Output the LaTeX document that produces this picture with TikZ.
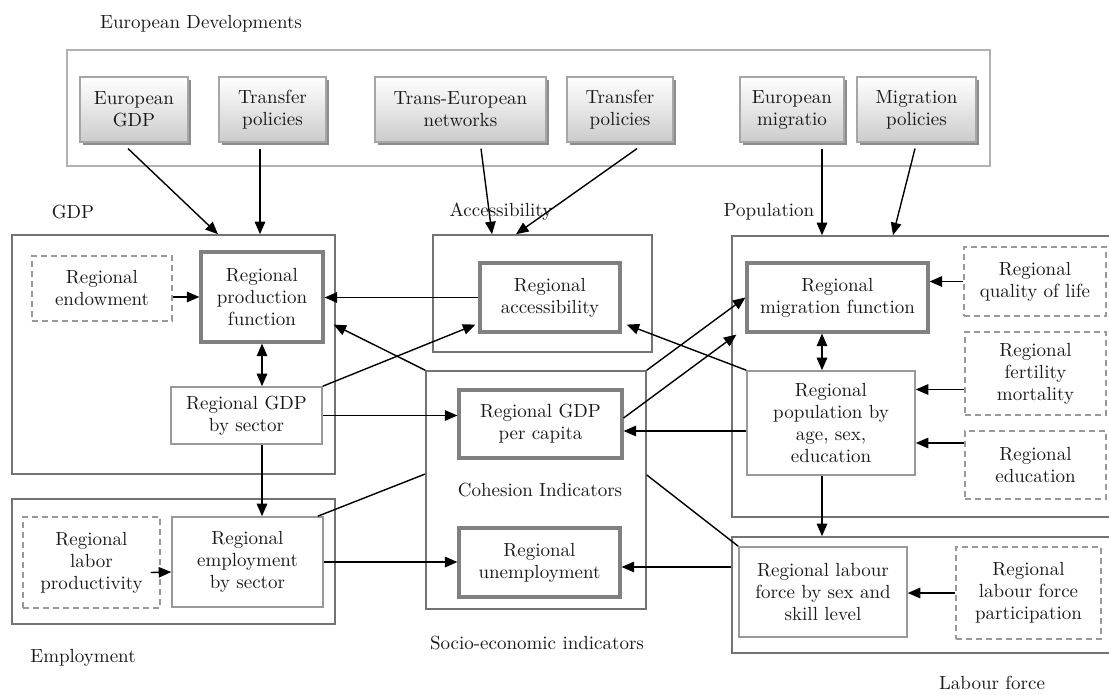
\documentclass[tikz,border=0pt]{standalone}
\usepackage{fontspec}
\setmainfont{lmroman10-regular.otf}
\usetikzlibrary{arrows.meta,shadows}
\begin{document}
\begin{tikzpicture}[x=1pt,y=-1pt,
  every node/.style={font=\fontsize{19}{22}\selectfont, text=black!90, align=center},
  boxspan/.style n args={4}{at={({(#1+#3)/2},{(#2+#4)/2})}, anchor=center,
    minimum width={(#3)-(#1)}, minimum height={(#4)-(#2)}, inner sep=0pt},
  sec/.style={draw=black!55, line width=1.6pt},
  plainbox/.style={draw=black!40, line width=1.6pt},
  keybox/.style={draw=black!50, line width=3.2pt},
  dashbox/.style={draw=black!40, line width=1.4pt, dash pattern=on 6pt off 4pt},
  extbox/.style={draw=black!35, line width=1.2pt, top color=white, bottom color=black!20,
    drop shadow={shadow xshift=2.5pt, shadow yshift=-2.5pt, fill=black!45, opacity=1}},
  tip/.style={Triangle[length=12.5pt,width=10.5pt]},
  arr/.style={line width=1.4pt, -{Triangle[length=12.5pt,width=10.5pt]}},
  darr/.style={line width=1.4pt, {Triangle[length=12.5pt,width=10.5pt]}-{Triangle[length=12.5pt,width=10.5pt]}},
  link/.style={line width=1.4pt},
  sectitle/.style={inner sep=0pt}]
\useasboundingbox (0,0) rectangle (1109,694);

% --- European developments ---------------------------------------------
\node[sectitle] (tdev) at (201,24) {European Developments};
\node[draw=black!30, line width=1.2pt, boxspan={67}{50}{990}{166}] (dev) {};
\node[extbox, boxspan={80}{77}{188}{142}] (eugdp) {European\\GDP};
\node[extbox, boxspan={219}{77}{326}{142}] (tpa) {Transfer\\policies};
\node[extbox, boxspan={375}{77}{546}{142}] (ten) {Trans-European\\networks};
\node[extbox, boxspan={567}{77}{673}{142}] (tpb) {Transfer\\policies};
\node[extbox, boxspan={740}{77}{844}{142}] (eumig) {European\\migratio};
\node[extbox, boxspan={857}{77}{976}{142}] (migpol) {Migration\\policies};

% --- section frames ----------------------------------------------------
\node[sectitle] (tgdp) at (73,212) {GDP};
\node[sectitle] (tacc) at (501,212) {Accessibility};
\node[sectitle] (tpop) at (769,212) {Population};
\node[sectitle] (temp) at (83,658) {Employment};
\node[sectitle] (tsoc) at (537,643) {Socio-economic indicators};
\node[sectitle] (tlab) at (992,683) {Labour force};

\node[sec, boxspan={12}{235}{335}{474}] (gdpsec) {};
\node[sec, boxspan={433}{235}{652}{352}] (accsec) {};
\node[sec, boxspan={426}{371}{646}{609}] (cohsec) {};
\node[sec, boxspan={732}{236}{1115}{517}] (popsec) {};
\node[sec, boxspan={12}{499}{335}{624}] (empsec) {};
\node[sec, boxspan={732}{537}{1115}{653}] (labsec) {};
\node[sectitle] (tcoh) at (540,490) {Cohesion Indicators};

% --- inner boxes -------------------------------------------------------
\node[dashbox, boxspan={32}{256}{172}{321}] (endow) {Regional\\endowment};
\node[keybox, boxspan={201}{252}{323}{342}] (prod) {Regional\\production\\function};
\node[plainbox, boxspan={171}{387}{322}{444}] (gdpsector) {Regional GDP\\by sector};
\node[keybox, boxspan={480}{263}{620}{332}] (access) {Regional\\accessibility};
\node[keybox, boxspan={459}{390}{622}{458}] (gdppc) {Regional GDP\\per capita};
\node[keybox, boxspan={459}{528}{620}{597}] (unemp) {Regional\\unemployment};
\node[dashbox, boxspan={23}{517}{160}{608}] (labprod) {Regional\\labor\\productivity};
\node[plainbox, boxspan={172}{517}{323}{607}] (empsector) {Regional\\employment\\by sector};
\node[keybox, boxspan={747}{263}{928}{332}] (migfun) {Regional\\migration function};
\node[plainbox, boxspan={747}{371}{915}{475}] (popbox) {Regional\\population by\\age, sex,\\education};
\node[dashbox, boxspan={964}{247}{1106}{316}] (qol) {Regional\\quality of life};
\node[dashbox, boxspan={965}{332}{1106}{415}] (fert) {Regional\\fertility\\mortality};
\node[dashbox, boxspan={965}{431}{1106}{499}] (edu) {Regional\\education};
\node[plainbox, boxspan={739}{547}{907}{637}] (lfbox) {Regional labour\\force by sex and\\skill level};
\node[dashbox, boxspan={956}{547}{1101}{639}] (lfpart) {Regional\\labour force\\participation};

% --- external influences -----------------------------------------------
\draw[arr] ([shift={(-6pt,-6pt)}]eugdp.south) -- ([xshift=44.5pt]gdpsec.north);
\draw[arr] ([shift={(-12.5pt,-6pt)}]tpa.south) -- ([xshift=86.5pt]gdpsec.north);
\draw[arr] ([shift={(20.5pt,-6pt)}]ten.south) -- ([xshift=-50.5pt]accsec.north);
\draw[arr] ([shift={(17pt,-6pt)}]tpb.south) -- ([xshift=-26.5pt]accsec.north);
\draw[arr] ([shift={(30pt,-6pt)}]eumig.south) -- ([xshift=-101.5pt]popsec.north);
\draw[arr] ([shift={(-1.5pt,-6pt)}]migpol.south) -- ([xshift=-30.5pt]popsec.north);

% --- GDP block ---------------------------------------------------------
\draw[arr] (endow.east |- prod.west) -- (prod.west);
\draw[arr] (access.west) -- (access.west -| prod.east);
\draw[darr] (prod.south) -- (prod.south |- gdpsector.north);
\draw[arr] (gdpsector.north east) -- ([shift={(-3pt,9pt)}]access.south west);
\draw[arr] (gdpsector.east) -- (gdpsector.east -| gdppc.west);
\draw[arr] (cohsec.north west) -- ([shift={(9pt,19pt)}]prod.south east);
\draw[arr] (prod.south |- gdpsector.south) -- (prod.south |- empsector.north);

% --- employment block --------------------------------------------------
\draw[arr] ([shift={(-10pt,-10pt)}]labprod.east) -- ([yshift=-10pt]empsector.west);
\draw[link] ([xshift=-6pt]empsector.north east) -- ([yshift=16pt]cohsec.west);
\draw[arr] (empsector.east) -- (empsector.east -| unemp.west);

% --- population block --------------------------------------------------
\draw[arr] ([yshift=6pt]gdppc.east) -- ([shift={(-9pt,-1pt)}]migfun.south west);
\draw[arr] (cohsec.north east) -- (migfun.west);
\draw[arr] (popbox.north west) -- ([shift={(5pt,9pt)}]access.south east);
\draw[arr] ([yshift=-8pt]popbox.west) -- ([yshift=-8pt]popbox.west -| gdppc.east);
\draw[darr] ([xshift=-9pt]popbox.north) -- ([xshift=-9pt]popbox.north |- migfun.south);
\draw[arr] (qol.west) -- (qol.west -| migfun.east);
\draw[arr] ([yshift=-16pt]fert.west) -- ([yshift=-16pt]fert.west -| popbox.east);
\draw[arr] ([yshift=22pt]edu.west) -- ([yshift=22pt]edu.west -| popbox.east);
\draw[arr] ([xshift=-9pt]popbox.south) -- ([xshift=-9pt]popbox.south |- labsec.north);

% --- labour force block ------------------------------------------------
\draw[link] ([yshift=15pt]cohsec.east) -- (lfbox.north west);
\draw[arr] ([yshift=28pt]labsec.west) -- ([yshift=28pt]labsec.west -| unemp.east);
\draw[arr] (lfpart.west) -- (lfpart.west -| lfbox.east);
\end{tikzpicture}
\end{document}
